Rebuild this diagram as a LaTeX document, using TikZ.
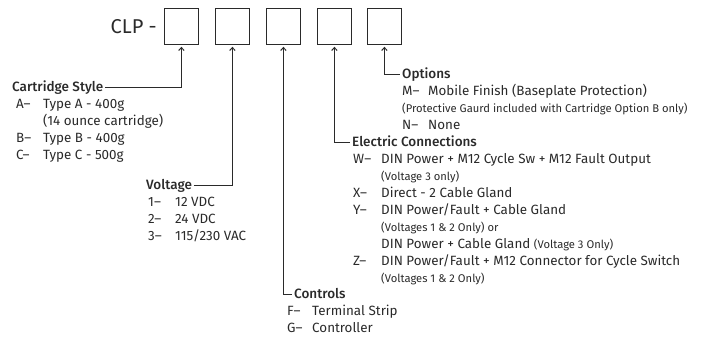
\documentclass[tikz,border=0pt]{standalone}
\usepackage{fontspec}
\setmainfont{Fira Sans}[BoldFont={Fira Sans Medium}]
\usetikzlibrary{arrows.meta}
\definecolor{ink}{HTML}{2A2A2A}
\begin{document}
\begin{tikzpicture}[x=1pt,y=-1pt,
  box/.style={draw=ink, line width=0.8pt, minimum width=34pt, minimum height=36pt, inner sep=0, anchor=north west},
  hd/.style={anchor=base west, inner sep=0, text=ink, font=\fontsize{13.5}{15}\selectfont\bfseries},
  it/.style={anchor=base west, inner sep=0, text=ink, font=\fontsize{13.4}{15}\selectfont},
  sm/.style={anchor=base west, inner sep=0, text=ink, font=\fontsize{11.2}{13}\selectfont},
  con/.style={draw=ink, line width=0.8pt},
  arr/.style={con, -{Straight Barb[length=3pt,width=5.5pt,line width=1pt]}, shorten >=2pt}]
\useasboundingbox (0,0) rectangle (703,339);
\def\bl{4.6}
% title and boxes
\node[anchor=base east, inner sep=0, text=ink, font=\fontsize{20}{24}\selectfont] (clp) at (157,33.5) {CLP -};
\node[box] (b1) at (164,8) {};
\node[box] (b2) at (215,8) {};
\node[box] (b3) at (266,8) {};
\node[box] (b4) at (317,8) {};
\node[box] (b5) at (367,8) {};
% Cartridge style
\node[hd] (cs) at (12,87+\bl) {Cartridge Style};
\node[it] (ca) at (16,104+\bl) {A–};
\node[it] (cat) at (43,104+\bl) {Type A - 400g};
\node[it] (cat2) at (43,121+\bl) {(14 ounce cartridge)};
\node[it] (cb) at (16,138+\bl) {B–};
\node[it] (cbt) at (43,138+\bl) {Type B - 400g};
\node[it] (cc) at (16,155+\bl) {C–};
\node[it] (cct) at (43,155+\bl) {Type C - 500g};
% Voltage
\node[hd] (vo) at (146,185+\bl) {Voltage};
\node[it] (v1) at (148,202+\bl) {1–};
\node[it] (v1t) at (175,202+\bl) {12 VDC};
\node[it] (v2) at (148,219+\bl) {2–};
\node[it] (v2t) at (175,219+\bl) {24 VDC};
\node[it] (v3) at (148,236+\bl) {3–};
\node[it] (v3t) at (175,236+\bl) {115/230 VAC};
% Controls
\node[hd] (co) at (294,294+\bl) {Controls};
\node[it] (cf) at (287,311+\bl) {F–};
\node[it] (cft) at (312,311+\bl) {Terminal Strip};
\node[it] (cg) at (287,328+\bl) {G–};
\node[it] (cgt) at (312,328+\bl) {Controller};
% Electric connections
\node[hd] (ec) at (352,142+\bl) {Electric Connections};
\node[it] (ew) at (353,159+\bl) {W–};
\node[it] (ewt) at (381,159+\bl) {DIN Power + M12 Cycle Sw + M12 Fault Output};
\node[sm] (ew2) at (381,176+\bl) {(Voltage 3 only)};
\node[it] (ex) at (353,193+\bl) {X–};
\node[it] (ext) at (381,193+\bl) {Direct - 2 Cable Gland};
\node[it] (ey) at (353,210+\bl) {Y–};
\node[it] (eyt) at (381,210+\bl) {DIN Power/Fault + Cable Gland};
\node[sm] (ey2) at (381,227+\bl) {(Voltages 1 \& 2 Only) or};
\node[it] (ey3) at (381,244+\bl) {DIN Power + Cable Gland {\fontsize{11.2}{13}\selectfont(Voltage 3 Only)}};
\node[it] (ez) at (353,261+\bl) {Z–};
\node[it] (ezt) at (381,261+\bl) {DIN Power/Fault + M12 Connector for Cycle Switch};
\node[sm] (ez2) at (381,278+\bl) {(Voltages 1 \& 2 Only)};
% Options
\node[hd] (op) at (402,74+\bl) {Options};
\node[it] (om) at (402,91+\bl) {M–};
\node[it] (omt) at (428,91+\bl) {Mobile Finish (Baseplate Protection)};
\node[sm] (om2) at (402,108+\bl) {(Protective Gaurd included with Cartridge Option B only)};
\node[it] (on) at (402,125+\bl) {N–};
\node[it] (ont) at (428,125+\bl) {None};
% connectors
\coordinate (csr) at ([xshift=1.5pt,yshift=4.4pt]cs.base east);
\coordinate (vor) at ([xshift=1.5pt,yshift=4.4pt]vo.base east);
\coordinate (col) at ([xshift=-2pt,yshift=4.4pt]co.base west);
\coordinate (ecl) at ([xshift=-2pt,yshift=4.4pt]ec.base west);
\coordinate (opl) at ([xshift=-2.5pt,yshift=4.4pt]op.base west);
\draw[arr] (csr) -| (b1.south);
\draw[arr] (vor) -| (b2.south);
\draw[arr] (col) -| (b3.south);
\draw[arr] (ecl) -| (b4.south);
\draw[arr] (opl) -| (b5.south);
\end{tikzpicture}
\end{document}
